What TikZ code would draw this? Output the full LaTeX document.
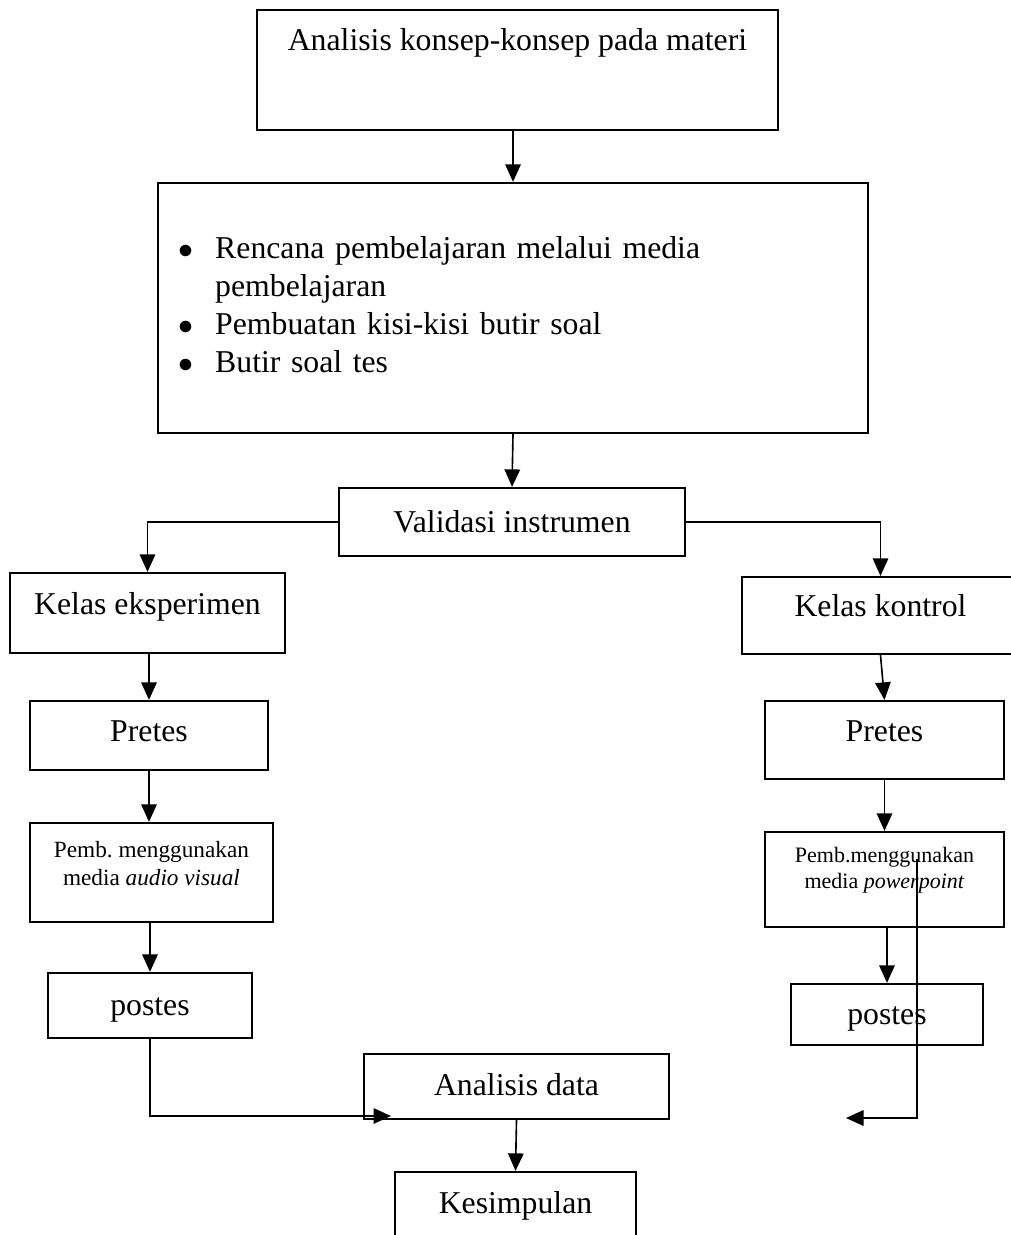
\documentclass[tikz,border=0pt]{standalone}
\usepackage{fontspec}
\setmainfont{Liberation Serif}
\usetikzlibrary{arrows.meta, calc}

\begin{document}
\begin{tikzpicture}[x=0.4pt, y=-0.4pt,
  box/.style={draw, line width=0.9pt, inner xsep=2pt, inner ysep=0pt, align=center, font=\fontsize{12.7}{15.2}\selectfont},
  arr/.style={line width=0.65pt, -{Triangle[length=7pt, width=6.2pt]}}]
  \useasboundingbox (0,0) rectangle (1011,1235);

  % Preparation
  \node[box, minimum width=208.4pt, text height=16pt, text depth=32pt] (konsep) at (517.5,70) {Analisis konsep-konsep pada materi};

  \node[box, minimum width=284pt, minimum height=100pt, text width=267.6pt, inner xsep=8.2pt, align=left] (rencana) at (513,308) {
    \begin{tabular}{@{}l@{\hspace{8.7pt}}l@{}}
      $\bullet$ & Rencana pembelajaran melalui media\\
                & pembelajaran\\
      $\bullet$ & Pembuatan kisi-kisi butir soal\\
      $\bullet$ & Butir soal tes
    \end{tabular}
  };

  \node[box, minimum width=138.4pt, minimum height=27.2pt] (valid) at (512,522) {Validasi instrumen};

  % Experiment class
  \node[box, minimum width=110pt, text height=16.4pt, text depth=15.6pt] (eksp) at (147.5,613) {Kelas eksperimen};
  \node[box, minimum width=95.2pt, text height=16pt, text depth=11.6pt] (preL) at (149,735.5) {Pretes};
  \node[box, minimum width=97.2pt, text height=13.6pt, text depth=26pt, font=\fontsize{9.3}{11.2}\selectfont] (pembL) at (151.5,872.5) {
    \begin{tabular}[t]{@{}c@{}}Pemb.\ menggunakan\\media \textit{audio visual}\end{tabular}};
  \node[box, minimum width=81.6pt, text height=16.8pt, text depth=9.2pt] (postesL) at (150,1005.5) {postes};

  % Control class
  \node[box, minimum width=110.8pt, text height=15.6pt, text depth=15.2pt] (kont) at (880.5,615.5) {Kelas kontrol};
  \node[box, minimum width=95.6pt, text height=16pt, text depth=15.2pt] (preR) at (884.5,740) {Pretes};
  \node[box, minimum width=95.6pt, text height=12pt, text depth=26pt, font=\fontsize{8.8}{10.4}\selectfont] (pembR) at (884.5,879.5) {
    \begin{tabular}[t]{@{}c@{}}Pemb.menggunakan\\media \textit{powerpoint}\end{tabular}};
  \node[box, minimum width=76.8pt, text height=16pt, text depth=8.4pt] (postesR) at (887,1014.5) {postes};

  % Results
  \node[box, minimum width=122pt, text height=16.4pt, text depth=9.6pt] (anal) at (516.5,1086.5) {Analisis data};
  \node[box, minimum width=96.4pt, text height=16.4pt, text depth=30pt] (kesim) at (515.5,1230) {Kesimpulan};

  \coordinate (anin) at (391,1116);
  \coordinate (pptop) at (917,859);
  \coordinate (ppend) at (846,1118);

  % Connectors
  \draw[arr] (rencana.north |- konsep.south) -- (rencana.north);
  \draw[arr] (rencana.south) -- (valid.north);
  \draw[arr] (valid.west) -| (eksp.north);
  \draw[arr] (valid.east) -| (kont.north);
  \draw[arr] (preL.north |- eksp.south) -- (preL.north);
  \draw[arr] (preL.south) -- (pembL.north -| preL.south);
  \draw[arr] (postesL.north |- pembL.south) -- (postesL.north);
  \draw[arr] (postesL.south) |- (anin);
  \draw[arr] (kont.south) -- (preR.north);
  \draw[arr] (preR.south) -- (pembR.north);
  \draw[arr] (postesR.north |- pembR.south) -- (postesR.north);
  \draw[arr] (pptop) |- (ppend);
  \draw[arr] (anal.south) -- (kesim.north);
\end{tikzpicture}
\end{document}
